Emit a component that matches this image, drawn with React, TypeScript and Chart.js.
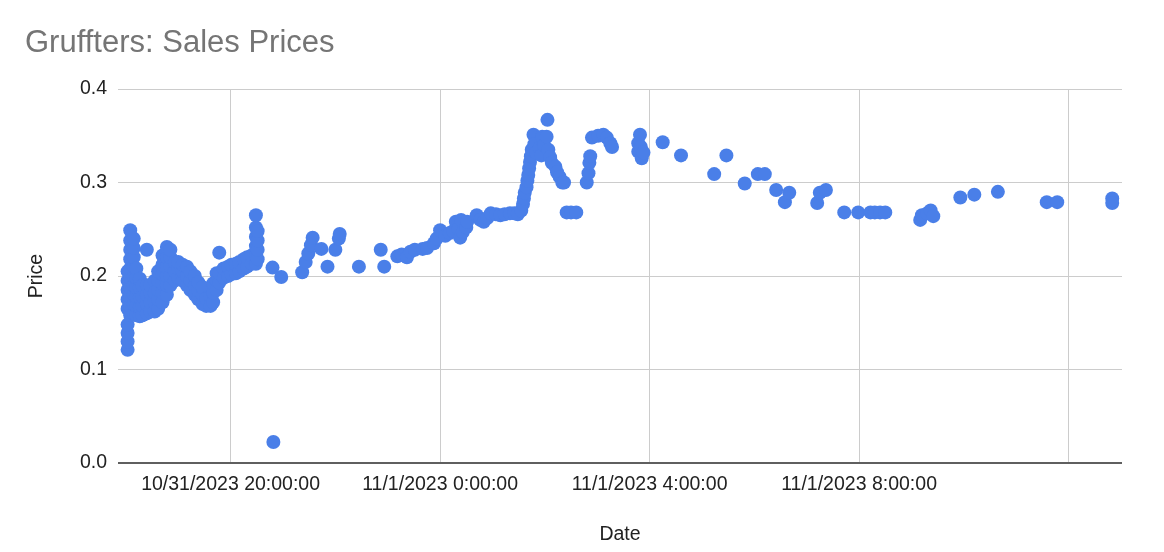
import React, { useEffect, useRef } from "react";
import { Chart, registerables } from "chart.js";

Chart.register(...registerables);

// ---- Data (sale time, sale price) ----
// Evening of 10/31/2023: dense cluster of sales
const eveningTimes: string[] = [
  "10/31 18:02", "10/31 18:02", "10/31 18:02", "10/31 18:02", "10/31 18:02", "10/31 18:02", "10/31 18:02", "10/31 18:02", "10/31 18:02",
  "10/31 18:05", "10/31 18:05", "10/31 18:05", "10/31 18:05", "10/31 18:05", "10/31 18:05", "10/31 18:05", "10/31 18:05", "10/31 18:05", "10/31 18:05",
  "10/31 18:09", "10/31 18:09", "10/31 18:09", "10/31 18:09", "10/31 18:09", "10/31 18:09", "10/31 18:09", "10/31 18:09", "10/31 18:09",
  "10/31 18:12", "10/31 18:12", "10/31 18:12", "10/31 18:12", "10/31 18:12", "10/31 18:12",
  "10/31 18:16", "10/31 18:16", "10/31 18:16", "10/31 18:16", "10/31 18:16",
  "10/31 18:19", "10/31 18:19", "10/31 18:19", "10/31 18:19",
  "10/31 18:24", "10/31 18:24", "10/31 18:24", "10/31 18:24", "10/31 18:24",
  "10/31 18:28", "10/31 18:28", "10/31 18:28", "10/31 18:28",
  "10/31 18:33", "10/31 18:33", "10/31 18:33", "10/31 18:33",
  "10/31 18:37", "10/31 18:37", "10/31 18:37", "10/31 18:37", "10/31 18:37",
  "10/31 18:42", "10/31 18:42", "10/31 18:42", "10/31 18:42", "10/31 18:42", "10/31 18:42",
  "10/31 18:47", "10/31 18:47", "10/31 18:47", "10/31 18:47", "10/31 18:47", "10/31 18:47",
  "10/31 18:51", "10/31 18:51", "10/31 18:51", "10/31 18:51", "10/31 18:51",
  "10/31 18:56", "10/31 18:56", "10/31 18:56",
  "10/31 19:00", "10/31 19:00", "10/31 19:00",
  "10/31 19:05", "10/31 19:05", "10/31 19:05",
  "10/31 19:10", "10/31 19:10", "10/31 19:10",
  "10/31 19:14", "10/31 19:14", "10/31 19:14",
  "10/31 19:19", "10/31 19:19", "10/31 19:19",
  "10/31 19:23", "10/31 19:23", "10/31 19:23",
  "10/31 19:28", "10/31 19:28", "10/31 19:28",
  "10/31 19:32", "10/31 19:32",
  "10/31 19:37", "10/31 19:37",
  "10/31 19:40", "10/31 19:40", "10/31 19:40",
  "10/31 19:44", "10/31 19:44", "10/31 19:44",
  "10/31 19:47", "10/31 19:47", "10/31 19:47",
  "10/31 19:52", "10/31 19:52",
  "10/31 19:57", "10/31 19:57",
  "10/31 20:01", "10/31 20:01",
  "10/31 20:06", "10/31 20:06",
  "10/31 20:10", "10/31 20:10",
  "10/31 20:15", "10/31 20:15",
  "10/31 20:19", "10/31 20:19",
  "10/31 20:24", "10/31 20:24",
  "10/31 20:29", "10/31 20:29", "10/31 20:29", "10/31 20:29", "10/31 20:29", "10/31 20:29",
  "10/31 20:31", "10/31 20:31", "10/31 20:31", "10/31 20:31",
];
const eveningPrices: number[] = [
  0.121, 0.13, 0.139, 0.148, 0.165, 0.175, 0.185, 0.195, 0.205,
  0.158, 0.168, 0.178, 0.188, 0.198, 0.208, 0.218, 0.228, 0.238, 0.249,
  0.16, 0.17, 0.18, 0.19, 0.2, 0.21, 0.22, 0.23, 0.24,
  0.158, 0.168, 0.178, 0.188, 0.198, 0.208,
  0.157, 0.167, 0.177, 0.187, 0.197,
  0.158, 0.168, 0.178, 0.19,
  0.16, 0.17, 0.18, 0.19, 0.228,
  0.162, 0.172, 0.182, 0.19,
  0.162, 0.172, 0.182, 0.195,
  0.165, 0.175, 0.185, 0.195, 0.205,
  0.172, 0.182, 0.192, 0.202, 0.212, 0.222,
  0.18, 0.19, 0.2, 0.21, 0.22, 0.231,
  0.19, 0.2, 0.21, 0.22, 0.228,
  0.195, 0.205, 0.215,
  0.198, 0.208, 0.215,
  0.195, 0.205, 0.212,
  0.19, 0.2, 0.21,
  0.185, 0.195, 0.205,
  0.18, 0.19, 0.2,
  0.175, 0.185, 0.193,
  0.17, 0.18, 0.188,
  0.168, 0.176,
  0.168, 0.178,
  0.172, 0.182, 0.192,
  0.185, 0.195, 0.203,
  0.193, 0.203, 0.225,
  0.198, 0.208,
  0.2, 0.21,
  0.202, 0.212,
  0.203, 0.213,
  0.205, 0.215,
  0.208, 0.218,
  0.21, 0.22,
  0.213, 0.222,
  0.213, 0.222, 0.232, 0.242, 0.252, 0.265,
  0.218, 0.228, 0.238, 0.248,
];

// Night: 10/31 20:45 to 11/1 1:30
const nightTimes: string[] = [
  "10/31 20:48", "10/31 20:49", "10/31 20:58", "10/31 21:22", "10/31 21:26", "10/31 21:29",
  "10/31 21:32", "10/31 21:34", "10/31 21:44", "10/31 21:51", "10/31 22:00", "10/31 22:04",
  "10/31 22:05", "10/31 22:27", "10/31 22:52", "10/31 22:56", "10/31 23:11", "10/31 23:16",
  "10/31 23:22", "10/31 23:26", "10/31 23:31", "10/31 23:40", "10/31 23:45", "10/31 23:53",
  "10/31 23:56", "11/1 0:00", "11/1 0:06", "11/1 0:11", "11/1 0:15", "11/1 0:18",
  "11/1 0:21", "11/1 0:23", "11/1 0:24", "11/1 0:26", "11/1 0:30", "11/1 0:31",
  "11/1 0:42", "11/1 0:46", "11/1 0:50", "11/1 0:54", "11/1 0:58", "11/1 1:04",
  "11/1 1:09", "11/1 1:14", "11/1 1:20", "11/1 1:25", "11/1 1:29",
];
const nightPrices: number[] = [
  0.209, 0.0225, 0.199, 0.204, 0.215, 0.224,
  0.233, 0.241, 0.229, 0.21, 0.228, 0.24,
  0.245, 0.21, 0.228, 0.21, 0.221, 0.223,
  0.22, 0.226, 0.228, 0.229, 0.23, 0.235,
  0.24, 0.249, 0.243, 0.246, 0.248, 0.258,
  0.25, 0.241, 0.26, 0.247, 0.252, 0.258,
  0.265, 0.26, 0.258, 0.262, 0.267, 0.266,
  0.265, 0.266, 0.267, 0.267, 0.266,
];

// Morning of 11/1/2023
const morningTimes: string[] = [
  "11/1 1:33", "11/1 1:35", "11/1 1:36", "11/1 1:37", "11/1 1:39", "11/1 1:40",
  "11/1 1:41", "11/1 1:42", "11/1 1:43", "11/1 1:44", "11/1 1:45", "11/1 1:47",
  "11/1 1:48", "11/1 1:50", "11/1 1:54", "11/1 1:56", "11/1 1:57", "11/1 1:59",
  "11/1 2:02", "11/1 2:03", "11/1 2:04", "11/1 2:06", "11/1 2:08", "11/1 2:12",
  "11/1 2:14", "11/1 2:17", "11/1 2:20", "11/1 2:22", "11/1 2:25", "11/1 2:30",
  "11/1 2:36", "11/1 2:48", "11/1 2:50", "11/1 2:51", "11/1 2:52", "11/1 2:54",
  "11/1 3:01", "11/1 3:07", "11/1 3:11", "11/1 3:15", "11/1 3:17", "11/1 3:47",
  "11/1 3:47", "11/1 3:49", "11/1 3:50", "11/1 3:51", "11/1 3:53", "11/1 4:15",
  "11/1 4:36", "11/1 5:14", "11/1 5:28", "11/1 5:49", "11/1 6:04", "11/1 6:12",
  "11/1 6:25", "11/1 6:35", "11/1 6:40", "11/1 7:12", "11/1 7:15", "11/1 7:22",
  "11/1 7:43", "11/1 7:59", "11/1 8:13", "11/1 8:18", "11/1 8:24", "11/1 8:30",
  "11/1 9:10", "11/1 9:12", "11/1 9:18", "11/1 9:22", "11/1 9:25", "11/1 9:56",
  "11/1 10:12", "11/1 10:39", "11/1 11:35", "11/1 11:47", "11/1 12:50", "11/1 12:50",
];
const morningPrices: number[] = [
  0.27, 0.277, 0.283, 0.289, 0.295, 0.302,
  0.308, 0.315, 0.322, 0.328, 0.335, 0.351,
  0.341, 0.332, 0.337, 0.329, 0.349, 0.34,
  0.349, 0.367, 0.335, 0.327, 0.321, 0.317,
  0.311, 0.306, 0.3, 0.3, 0.268, 0.268,
  0.268, 0.3, 0.31, 0.321, 0.328, 0.348,
  0.35, 0.351, 0.348, 0.342, 0.338, 0.342,
  0.333, 0.351, 0.338, 0.326, 0.332, 0.343,
  0.329, 0.309, 0.329, 0.299, 0.309, 0.309,
  0.292, 0.279, 0.289, 0.278, 0.289, 0.292,
  0.268, 0.268, 0.268, 0.268, 0.268, 0.268,
  0.26, 0.265, 0.267, 0.27, 0.264, 0.284,
  0.287, 0.29, 0.279, 0.279, 0.283, 0.278,
];

// Axis ticks
const xTickHours: number[] = [-4, 0, 4, 8, 12];
const xTickLabels: string[] = [
  "10/31/2023 20:00:00",
  "11/1/2023 0:00:00",
  "11/1/2023 4:00:00",
  "11/1/2023 8:00:00",
  "",
];
const yTickValues: number[] = [0, 0.1, 0.2, 0.3, 0.4];

// hours relative to 11/1/2023 0:00
function toHours(s: string): number {
  const [date, time] = s.split(" ");
  const [month] = date.split("/").map(Number);
  const [hh, mm] = time.split(":").map(Number);
  return (month === 10 ? -24 : 0) + hh + mm / 60;
}

function zip(times: string[], prices: number[]) {
  return times.map((t, i) => ({ x: toHours(t), y: prices[i] }));
}

const FONT = "'Liberation Sans', Arial, Helvetica, sans-serif";

export default function App() {
  const ref = useRef<HTMLCanvasElement | null>(null);

  useEffect(() => {
    if (!ref.current) return;
    const points = [
      ...zip(eveningTimes, eveningPrices),
      ...zip(nightTimes, nightPrices),
      ...zip(morningTimes, morningPrices),
    ];
    const chart = new Chart(ref.current, {
      type: "scatter",
      data: {
        datasets: [
          {
            label: "Price",
            data: points,
            backgroundColor: "#4a7fe8",
            borderWidth: 0,
            pointRadius: 7,
            pointHoverRadius: 7,
          },
        ],
      },
      options: {
        animation: false,
        responsive: false,
        devicePixelRatio: 1,
        layout: { padding: { top: 0, left: 25, right: 42, bottom: 0 } },
        plugins: {
          legend: { display: false },
          tooltip: { enabled: false },
          title: {
            display: true,
            text: "Gruffters: Sales Prices",
            align: "start",
            color: "#757575",
            font: { family: FONT, size: 31, weight: "normal" },
            padding: { top: 25, bottom: 26.8 },
          },
        },
        scales: {
          x: {
            type: "linear",
            min: -6.15,
            max: 13.02,
            afterBuildTicks: (scale: any) => {
              scale.ticks = xTickHours.map((v) => ({ value: v }));
            },
            afterFit: (scale: any) => {
              scale.height = 89;
            },
            ticks: {
              autoSkip: false,
              maxRotation: 0,
              minRotation: 0,
              padding: 10,
              color: "#222222",
              font: { family: FONT, size: 19.5 },
              callback: (_v: any, i: number) => xTickLabels[i],
            },
            grid: { color: "#cccccc", lineWidth: 1, drawTicks: false },
            border: { display: false },
            title: {
              display: true,
              text: "Date",
              color: "#222222",
              font: { family: FONT, size: 19.5 },
              padding: { top: 0, bottom: 6 },
            },
          },
          y: {
            min: 0,
            max: 0.4,
            afterBuildTicks: (scale: any) => {
              scale.ticks = yTickValues.map((v) => ({ value: v }));
            },
            afterFit: (scale: any) => {
              scale.width = 93;
            },
            ticks: {
              padding: 11,
              color: "#222222",
              font: { family: FONT, size: 19.5 },
              callback: (v: any) => Number(v).toFixed(1),
            },
            grid: {
              color: (ctx: any) => (ctx.tick && ctx.tick.value === 0 ? "#5f5f5f" : "#cccccc"),
              lineWidth: (ctx: any) => (ctx.tick && ctx.tick.value === 0 ? 2 : 1),
              drawTicks: false,
            },
            border: { display: false },
            title: {
              display: true,
              text: "Price",
              color: "#222222",
              font: { family: FONT, size: 19.5, lineHeight: 1 },
              padding: { top: 1.5, bottom: 0 },
            },
          },
        },
      },
    } as any);
    return () => chart.destroy();
  }, []);

  return (
    <div style={{ position: "absolute", left: 0, top: 0, width: 1164, height: 552, background: "#ffffff" }}>
      <canvas ref={ref} width={1164} height={552} />
    </div>
  );
}
